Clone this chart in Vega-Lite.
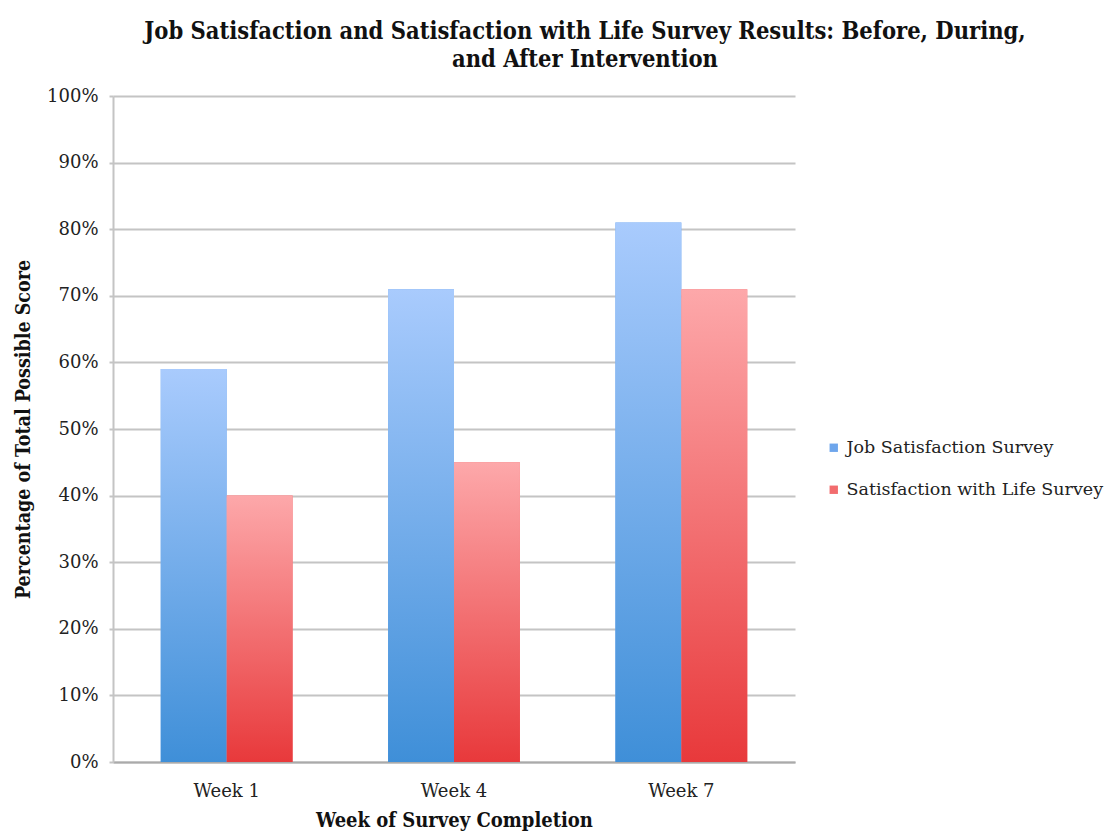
{
  "$schema": "https://vega.github.io/schema/vega-lite/v6.json",
  "autosize": "none",
  "width": 682,
  "height": 666,
  "padding": {"left": 113, "top": 96, "right": 320, "bottom": 71},
  "background": "white",
  "title": {
    "text": ["Job Satisfaction and Satisfaction with Life Survey Results: Before, During,", "and After Intervention"],
    "font": "DejaVu Serif Condensed",
    "fontSize": 23.5,
    "fontWeight": "bold",
    "color": "#111",
    "lineHeight": 28,
    "frame": "group",
    "anchor": "middle",
    "dx": 131,
    "offset": 16
  },
  "data": {
    "values": [
      {"week": "Week 1", "survey": "Job Satisfaction Survey", "score": 0.59},
      {"week": "Week 1", "survey": "Satisfaction with Life Survey", "score": 0.40},
      {"week": "Week 4", "survey": "Job Satisfaction Survey", "score": 0.71},
      {"week": "Week 4", "survey": "Satisfaction with Life Survey", "score": 0.45},
      {"week": "Week 7", "survey": "Job Satisfaction Survey", "score": 0.81},
      {"week": "Week 7", "survey": "Satisfaction with Life Survey", "score": 0.71}
    ]
  },
  "encoding": {
    "x": {
      "field": "week", "type": "nominal",
      "scale": {"paddingInner": 0.42, "paddingOuter": 0.21},
      "axis": {
        "title": "Week of Survey Completion",
        "labelAngle": 0,
        "labelFont": "DejaVu Serif",
        "labelFontSize": 18,
        "labelColor": "#222",
        "labelPadding": 20,
        "titleFont": "DejaVu Serif Condensed",
        "titleFontSize": 20,
        "titleFontWeight": "bold",
        "titleColor": "#111",
        "titlePadding": 10,
        "ticks": false,
        "domainColor": "#aaa",
        "domainWidth": 2
      }
    },
    "xOffset": {
      "field": "survey", "type": "nominal",
      "scale": {"domain": ["Job Satisfaction Survey", "Satisfaction with Life Survey"], "paddingInner": 0, "paddingOuter": 0}
    },
    "y": {
      "field": "score", "type": "quantitative",
      "scale": {"domain": [0, 1]},
      "axis": {
        "title": "Percentage of Total Possible Score",
        "format": ".0%",
        "values": [0, 0.1, 0.2, 0.3, 0.4, 0.5, 0.6, 0.7, 0.8, 0.9, 1],
        "labelFont": "DejaVu Serif",
        "labelFontSize": 18,
        "labelColor": "#222",
        "labelPadding": 11,
        "titleFont": "DejaVu Serif Condensed",
        "titleFontSize": 19.5,
        "titleFontWeight": "bold",
        "titleColor": "#111",
        "titlePadding": 13,
        "grid": true,
        "gridColor": "#c4c4c4",
        "gridWidth": 2,
        "tickColor": "#c4c4c4",
        "tickWidth": 2,
        "tickSize": 4,
        "domainColor": "#c4c4c4",
        "domainWidth": 2
      }
    }
  },
  "layer": [
    {
      "mark": {"type": "bar"},
      "encoding": {
        "color": {
          "field": "survey", "type": "nominal",
          "scale": {
            "domain": ["Job Satisfaction Survey", "Satisfaction with Life Survey"],
            "range": ["#6ea6ec", "#f26c6e"]
          },
          "legend": {
            "title": null,
            "orient": "none",
            "legendX": 712,
            "legendY": 343,
            "symbolType": "square",
            "symbolSize": 70,
            "symbolStrokeWidth": 0,
            "labelFont": "DejaVu Serif",
            "labelFontSize": 17.5,
            "labelColor": "#222",
            "labelOffset": 4,
            "rowPadding": 23,
            "labelLimit": 400
          }
        }
      }
    },
    {
      "transform": [{"filter": "datum.survey === 'Job Satisfaction Survey'"}],
      "mark": {
        "type": "bar",
        "color": {"gradient": "linear", "x1": 0, "y1": 0, "x2": 0, "y2": 1, "stops": [{"offset": 0, "color": "#a9cbfd"}, {"offset": 1, "color": "#3f8fd8"}]}
      }
    },
    {
      "transform": [{"filter": "datum.survey === 'Satisfaction with Life Survey'"}],
      "mark": {
        "type": "bar",
        "color": {"gradient": "linear", "x1": 0, "y1": 0, "x2": 0, "y2": 1, "stops": [{"offset": 0, "color": "#fda8aa"}, {"offset": 1, "color": "#e8393b"}]}
      }
    }
  ],
  "config": {"view": {"stroke": null}}
}
